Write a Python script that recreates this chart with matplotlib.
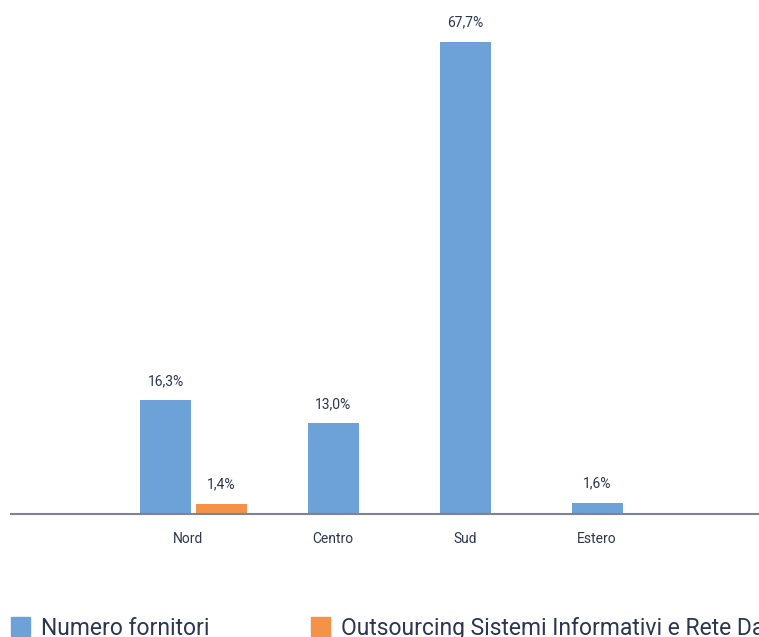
import matplotlib
matplotlib.use("Agg")
import matplotlib.pyplot as plt
from matplotlib.patches import Rectangle

# regional split of suppliers (percent)
regions = ["Nord", "Centro", "Sud", "Estero"]
numero_fornitori = [16.3, 13.0, 67.7, 1.6]
outsourcing = [1.4, None, None, None]
series_names = ["Numero fornitori", "Outsourcing Sistemi Informativi e Rete Dati"]

BLUE = "#6ca2d7"
ORANGE = "#f39248"
TEXT = "#2b3651"
AXIS = "#7d848f"

plt.rcParams["font.family"] = ["Roboto", "DejaVu Sans"]

W, H = 759, 637
fig = plt.figure(figsize=(W / 100, H / 100), dpi=100)
ax = fig.add_axes([0.0, (H - 514) / H, 1.0, 514 / H])

cat_x = [0.0, 1.1, 2.1, 3.1]
width = 0.386
blue_off = [-0.17, 0, 0, 0]
orange_off = 0.254
x_lo, x_hi = -1.424, 4.326


def fmt(v):
    return f"{v:.1f}%".replace(".", ",")


for x, off, v in zip(cat_x, blue_off, numero_fornitori):
    ax.bar(x + off, v, width=width, color=BLUE, zorder=2)
    ax.annotate(fmt(v), (x + off, v), xytext=(0, 14), textcoords="offset points",
                ha="center", va="center", fontsize=10, color=TEXT)

for x, v in zip(cat_x, outsourcing):
    if v is None:
        continue
    ax.bar(x + orange_off, v, width=width, color=ORANGE, zorder=2)
    ax.annotate(fmt(v), (x + orange_off, v), xytext=(0, 14), textcoords="offset points",
                ha="center", va="center", fontsize=10, color=TEXT)

ax.set_xlim(x_lo, x_hi)
ax.set_ylim(0, 73.7)
ax.set_xticks(cat_x)
ax.set_xticklabels(regions, fontsize=10, color=TEXT)
ax.tick_params(axis="x", length=0, pad=13)
ax.set_yticks([])
for side in ["top", "right", "left"]:
    ax.spines[side].set_visible(False)
ax.spines["bottom"].set_color(AXIS)
ax.spines["bottom"].set_linewidth(1.5)
ax.spines["bottom"].set_bounds(x_lo + 11 / 132, x_hi)
ax.spines["bottom"].set_zorder(3)

# legend along the bottom edge, running off the figure
for x0, color, name in [(11, BLUE, series_names[0]), (311, ORANGE, series_names[1])]:
    fig.patches.append(Rectangle((x0 / W, (H - 636) / H), 19 / W, 19 / H,
                                 transform=fig.transFigure, color=color))
    fig.text((x0 + 30) / W, (H - 635) / H, name, ha="left", va="baseline",
             fontsize=16.5, color=TEXT)

fig.savefig("out.png", dpi=100)
